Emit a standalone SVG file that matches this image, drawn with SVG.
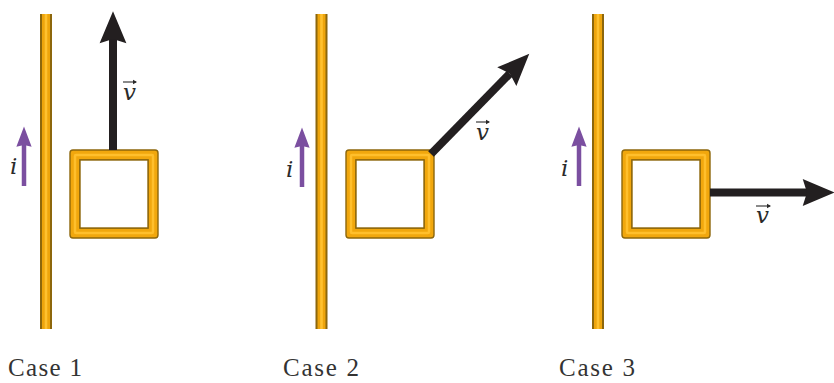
<svg xmlns="http://www.w3.org/2000/svg" width="834" height="383" viewBox="0 0 834 383">
<style>
.wo{fill:#8d670c}
.wi{fill:#eea50c}
.wh{fill:#ffc12e}
.frame{fill:#f1a70d;stroke:#8d670c;stroke-width:1.4;fill-rule:evenodd}
.hl{fill:none;stroke:#ffbf2c;stroke-width:2.5}
.vel{stroke:#231f20;stroke-width:8;fill:none}
.cur{stroke:#7b4fa0;stroke-width:4.5;fill:none}
.lab{font-family:"DejaVu Serif","Liberation Serif",serif;font-style:italic;font-size:23px;fill:#2a2a2a}
.case{font-family:"Liberation Serif",serif;font-size:25px;fill:#333}
.sv{stroke:#2a2a2a;stroke-width:1.1;fill:none}
</style>
<defs>
<marker id="ah" markerUnits="userSpaceOnUse" markerWidth="40" markerHeight="30" viewBox="-5 -14 33 28" refX="0" refY="0" orient="auto">
<path d="M26,0 L-4,-12.5 L0,0 L-4,12.5 Z" fill="#231f20"/>
</marker>
<marker id="ai" markerUnits="userSpaceOnUse" markerWidth="24" markerHeight="18" viewBox="-3 -8 22 16" refX="0" refY="0" orient="auto">
<path d="M17,0 L-1.5,-7 L0,0 L-1.5,7 Z" fill="#7b4fa0"/>
</marker>
<g id="wire">
<rect class="wo" x="-6" y="14" width="12" height="315"/>
<rect class="wi" x="-4" y="14" width="8" height="315"/>
<rect class="wh" x="-1.3" y="14" width="2.6" height="315"/>
</g>
<g id="loop">
<path class="frame" d="M3,0 H85 Q88,0 88,3 V85 Q88,88 85,88 H3 Q0,88 0,85 V3 Q0,0 3,0 Z M10,10 V78 H78 V10 Z"/>
<rect class="hl" x="5" y="5" width="78" height="78" rx="1"/>
<rect x="10" y="10" width="68" height="68" fill="#fff" stroke="#8d670c" stroke-width="1.4"/>
</g>
</defs>

<g id="case1">
<g id="wire1"><use href="#wire" x="46"/></g>
<g id="loop1"><use href="#loop" x="70" y="150"/></g>
<g id="current1"><line class="cur" x1="24" y1="186" x2="24" y2="145" marker-end="url(#ai)"/><text class="lab" x="10" y="174">i</text></g>
<text class="case" x="8" y="376" textLength="74">Case 1</text>
</g>

<g id="case2">
<g id="wire2"><use href="#wire" x="321.5"/></g>
<g id="loop2"><use href="#loop" x="346" y="150"/></g>
<g id="current2"><line class="cur" x1="302" y1="187" x2="302" y2="146" marker-end="url(#ai)"/><text class="lab" x="286" y="177">i</text></g>
<text class="case" x="283" y="376" textLength="76">Case 2</text>
</g>

<g id="case3">
<g id="wire3"><use href="#wire" x="598"/></g>
<g id="loop3"><use href="#loop" x="622" y="150"/></g>
<g id="current3"><line class="cur" x1="579" y1="186" x2="579" y2="145" marker-end="url(#ai)"/><text class="lab" x="561" y="176">i</text></g>
<text class="case" x="559" y="376" textLength="76">Case 3</text>
</g>

<g id="arrows">
<line class="vel" x1="113" y1="150" x2="113" y2="39" marker-end="url(#ah)"/>
<line class="vel" x1="431" y1="154" x2="509.8" y2="73.6" marker-end="url(#ah)"/>
<line class="vel" x1="710" y1="192.5" x2="807" y2="192.5" marker-end="url(#ah)"/>
</g>

<g id="vlabels">
<g><text class="lab" x="123" y="100">v</text><line class="sv" x1="123" y1="82" x2="136" y2="82"/><path d="M137,82 l-4,-2.3 v4.6 z" fill="#2a2a2a"/></g>
<g><text class="lab" x="476" y="140">v</text><line class="sv" x1="476" y1="122" x2="489" y2="122"/><path d="M490,122 l-4,-2.3 v4.6 z" fill="#2a2a2a"/></g>
<g><text class="lab" x="756" y="223">v</text><line class="sv" x1="756" y1="206" x2="770" y2="206"/><path d="M771,206 l-4,-2.3 v4.6 z" fill="#2a2a2a"/></g>
</g>
</svg>
